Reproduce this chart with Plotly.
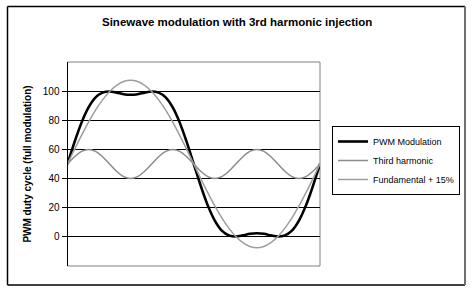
import plotly.graph_objects as go

W, H = 473, 295

# Phase angle (degrees) – one full period across the plot
angle_deg = [0, 10, 20, 30, 40, 50, 60, 70, 80, 90, 100, 110, 120, 130, 140, 150, 160, 170, 180,
             190, 200, 210, 220, 230, 240, 250, 260, 270, 280, 290, 300, 310, 320, 330, 340, 350, 360]

pwm_modulation = [50, 65.0, 78.4, 88.8, 95.7, 99.0, 99.8, 99.0, 97.9, 97.5, 97.9, 99.0, 99.8, 99.0, 95.7,
                  88.8, 78.4, 65.0, 50, 35.0, 21.6, 11.2, 4.3, 1.0, 0.2, 1.0, 2.1, 2.5, 2.1, 1.0, 0.2,
                  1.0, 4.3, 11.2, 21.6, 35.0, 50]

third_harmonic = [50, 55, 58.7, 60, 58.7, 55, 50, 45, 41.3, 40, 41.3, 45, 50, 55, 58.7, 60, 58.7, 55, 50,
                  45, 41.3, 40, 41.3, 45, 50, 55, 58.7, 60, 58.7, 55, 50, 45, 41.3, 40, 41.3, 45, 50]

fundamental_15 = [50, 60.0, 69.7, 78.8, 87.0, 94.0, 99.8, 104.0, 106.6, 107.5, 106.6, 104.0, 99.8, 94.0,
                  87.0, 78.8, 69.7, 60.0, 50, 40.0, 30.3, 21.2, 13.0, 6.0, 0.2, -4.0, -6.6, -7.5, -6.6,
                  -4.0, 0.2, 6.0, 13.0, 21.2, 30.3, 40.0, 50]

y_ticks = [0, 20, 40, 60, 80, 100]

series_names = ["PWM Modulation", "Third harmonic", "Fundamental + 15%"]

fig = go.Figure()
fig.add_trace(go.Scatter(x=angle_deg, y=pwm_modulation, name=series_names[0], mode="lines",
                         line=dict(color="#000000", width=2.6, shape="spline")))
fig.add_trace(go.Scatter(x=angle_deg, y=third_harmonic, name=series_names[1], mode="lines",
                         line=dict(color="#8c8c8c", width=1.5, shape="spline")))
fig.add_trace(go.Scatter(x=angle_deg, y=fundamental_15, name=series_names[2], mode="lines",
                         line=dict(color="#9e9e9e", width=1.5, shape="spline")))

def px(x):
    return x / W

def py(y):
    return 1 - y / H

fig.update_layout(
    width=W, height=H,
    margin=dict(l=0, r=0, t=0, b=0),
    paper_bgcolor="white", plot_bgcolor="white",
    font=dict(family="Liberation Sans, Arial, sans-serif", color="#000000"),
    xaxis=dict(domain=[px(67.5), px(320)], range=[0, 360], showticklabels=False, showgrid=False,
               zeroline=False, ticks="", showline=False),
    yaxis=dict(domain=[py(266), py(62)], range=[-20, 120], tickvals=y_ticks, ticks="outside",
               ticklen=5, tickcolor="#000000", tickfont=dict(size=10), showgrid=True,
               gridcolor="#000000", gridwidth=1, zeroline=False, showline=True, linecolor="#000000",
               linewidth=1,
               title=dict(text="<b>PWM duty cycle (full modulation)</b>", font=dict(size=10), standoff=9)),
    showlegend=True,
    legend=dict(x=px(332), y=py(126), xanchor="left", yanchor="top", bgcolor="white",
                bordercolor="#000000", borderwidth=1, font=dict(size=9), tracegroupgap=0,
                itemwidth=30),
    annotations=[dict(text="<b>Sinewave modulation with 3rd harmonic injection</b>", x=px(237), y=py(22),
                      xref="paper", yref="paper", showarrow=False, font=dict(size=11.5),
                      xanchor="center", yanchor="middle")],
    shapes=[
        # plot area border (grey)
        dict(type="rect", xref="paper", yref="paper", x0=px(67.5), x1=px(320), y0=py(266), y1=py(62),
             line=dict(color="#808080", width=1), layer="below"),
        # outer chart border
        dict(type="line", xref="paper", yref="paper", x0=px(7.5), x1=px(465), y0=py(6.5), y1=py(6.5),
             line=dict(color="#000000", width=1.5)),
        dict(type="line", xref="paper", yref="paper", x0=px(7.5), x1=px(7.5), y0=py(6.5), y1=py(285),
             line=dict(color="#000000", width=1.5)),
        dict(type="line", xref="paper", yref="paper", x0=px(7.5), x1=px(465), y0=py(285), y1=py(285),
             line=dict(color="#000000", width=1.5)),
        dict(type="line", xref="paper", yref="paper", x0=px(465), x1=px(465), y0=py(6.5), y1=py(285),
             line=dict(color="#707070", width=2)),
    ],
)

fig.write_html("out.html")
